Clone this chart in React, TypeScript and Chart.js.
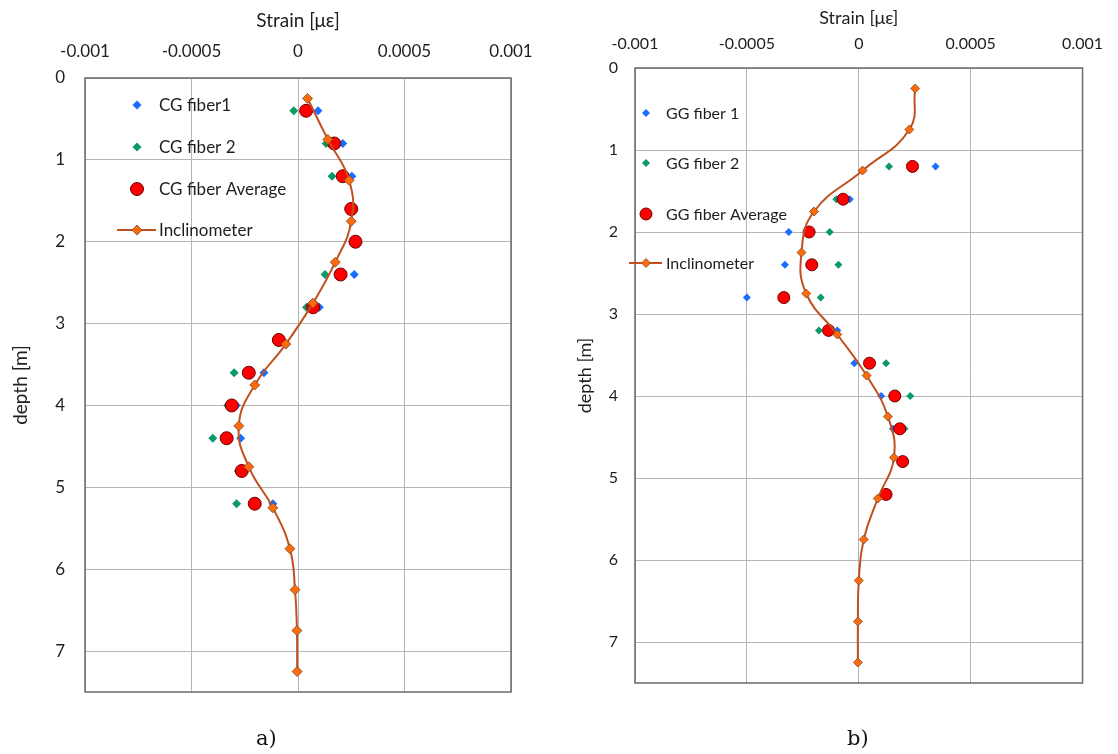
import React, { useEffect, useRef } from 'react';
import { Chart, registerables } from 'chart.js';

Chart.register(...registerables);

// ---------- data ----------
const xTickValues = [-0.001, -0.0005, 0, 0.0005, 0.001];
const xTickLabels = ['-0.001', '-0.0005', '0', '0.0005', '0.001'];
const yTickValues = [0, 1, 2, 3, 4, 5, 6, 7];
const yTickLabels = ['0', '1', '2', '3', '4', '5', '6', '7'];

const inclDepth = [0.25, 0.75, 1.25, 1.75, 2.25, 2.75, 3.25, 3.75, 4.25, 4.75, 5.25, 5.75, 6.25, 6.75, 7.25];

// panel a) CG
const cgFiberDepth = [0.4, 0.8, 1.2, 1.6, 2.0, 2.4, 2.8, 3.2, 3.6, 4.0, 4.4, 4.8, 5.2];
const cgFiber1 = [0.000094, 0.00021, 0.000253, 0.00026, 0.00027, 0.000264, 0.0001, -0.00008, -0.00016, -0.00029, -0.000269, -0.00025, -0.000118];
const cgFiber2 = [-0.00002, 0.000132, 0.00016, 0.00024, 0.00026, 0.000127, 0.00004, -0.0001, -0.0003, -0.00033, -0.0004, -0.00028, -0.000288];
const cgAverage = [0.000038, 0.00017, 0.00021, 0.00025, 0.00027, 0.0002, 0.000071, -0.00009, -0.000231, -0.000311, -0.000335, -0.000264, -0.000203];
const cgIncl = [0.000045, 0.00014, 0.00024, 0.00025, 0.000175, 0.00007, -0.000057, -0.000203, -0.000278, -0.000231, -0.000118, -0.000038, -0.000014, -0.000005, -0.000004];

// panel b) GG
const ggFiberDepth = [1.2, 1.6, 2.0, 2.4, 2.8, 3.2, 3.6, 4.0, 4.4, 4.8, 5.2];
const ggFiber1 = [0.000343, -0.00004, -0.000313, -0.00033, -0.0005, -0.000096, -0.00002, 0.0001, 0.000152, 0.00019, 0.00012];
const ggFiber2 = [0.000135, -0.0001, -0.00013, -0.000091, -0.00017, -0.000178, 0.000122, 0.00023, 0.000204, 0.0002, 0.000125];
const ggAverage = [0.00024, -0.00007, -0.000222, -0.00021, -0.000335, -0.000135, 0.000048, 0.000161, 0.000183, 0.000196, 0.000122];
const ggIncl = [0.000252, 0.000226, 0.000017, -0.0002, -0.000256, -0.000235, -0.000096, 0.000035, 0.00013, 0.000157, 0.000085, 0.000022, 0, -0.000004, -0.000004];

// ---------- styles ----------
const BLUE = '#1a6dff';
const GREEN = '#0a9a68';
const RED = '#ff0000';
const RED_BORDER = '#6b0000';
const INCL_LINE = '#c0501e';
const INCL_FILL = '#ff6a0a';
const INCL_BORDER = '#7a4a2a';
const GRID = '#b5b5b5';
const FRAME = '#6a6a6a';
const TEXT = '#1e1e1e';
const FONT = 'Lato, "Open Sans", sans-serif';

const toPts = (xs: number[], ys: number[]) => xs.map((x, i) => ({ x, y: ys[i] }));

const labelFor = (values: number[], labels: string[], v: number) => {
  let best = 0;
  values.forEach((t, i) => {
    if (Math.abs(t - v) < Math.abs(values[best] - v)) best = i;
  });
  return labels[best];
};

type PanelCfg = {
  labels: [string, string, string, string];
  depth: number[];
  f1: number[];
  f2: number[];
  avg: number[];
  incl: number[];
  yAxisWidth: number;
  xAxisHeight: number;
  padRight: number;
  padBottom: number;
  yTickPad: number;
  xTickPad: number;
  titlePadX: number;
  titlePadY: number;
  fontSize: number;
  titleSize: number;
  legendFont: number;
  fiberR: number;
  avgR: number;
  inclR: number;
  legend: { markerX: number; textX: number; lineX1: number; lineX2: number; ys: number[] };
};

function drawDiamond(ctx: CanvasRenderingContext2D, x: number, y: number, r: number, fill: string, stroke?: string) {
  ctx.beginPath();
  ctx.moveTo(x, y - r);
  ctx.lineTo(x + r, y);
  ctx.lineTo(x, y + r);
  ctx.lineTo(x - r, y);
  ctx.closePath();
  ctx.fillStyle = fill;
  ctx.fill();
  if (stroke) {
    ctx.strokeStyle = stroke;
    ctx.lineWidth = 0.8;
    ctx.stroke();
  }
}

function makePlugins(cfg: PanelCfg) {
  const frame = {
    id: 'frame',
    afterDraw(chart: any) {
      const { ctx, chartArea: a } = chart;
      ctx.save();
      ctx.strokeStyle = FRAME;
      ctx.lineWidth = 1.5;
      ctx.strokeRect(a.left, a.top, a.right - a.left, a.bottom - a.top);
      ctx.restore();
    },
  };
  const legend = {
    id: 'customLegend',
    afterDraw(chart: any) {
      const ctx: CanvasRenderingContext2D = chart.ctx;
      const L = cfg.legend;
      ctx.save();
      ctx.font = `${cfg.legendFont}px ${FONT}`;
      ctx.textBaseline = 'middle';
      ctx.textAlign = 'left';
      cfg.labels.forEach((label, i) => {
        const y = L.ys[i];
        if (i === 0) drawDiamond(ctx, L.markerX, y, cfg.fiberR, BLUE);
        if (i === 1) drawDiamond(ctx, L.markerX, y, cfg.fiberR, GREEN);
        if (i === 2) {
          ctx.beginPath();
          ctx.arc(L.markerX, y, cfg.avgR, 0, Math.PI * 2);
          ctx.fillStyle = RED;
          ctx.fill();
          ctx.strokeStyle = RED_BORDER;
          ctx.lineWidth = 1;
          ctx.stroke();
        }
        if (i === 3) {
          ctx.beginPath();
          ctx.moveTo(L.lineX1, y);
          ctx.lineTo(L.lineX2, y);
          ctx.strokeStyle = INCL_LINE;
          ctx.lineWidth = 2;
          ctx.stroke();
          drawDiamond(ctx, L.markerX, y, cfg.inclR, INCL_FILL, INCL_BORDER);
        }
        ctx.fillStyle = TEXT;
        ctx.fillText(label, L.textX, y + 1);
      });
      ctx.restore();
    },
  };
  return [frame, legend];
}

function buildConfig(cfg: PanelCfg): any {
  const font = { family: FONT, size: cfg.fontSize };
  const tfont = { family: FONT, size: cfg.titleSize };
  return {
    type: 'scatter',
    data: {
      datasets: [
        {
          label: cfg.labels[3],
          type: 'line',
          data: toPts(cfg.incl, inclDepth),
          borderColor: INCL_LINE,
          borderWidth: 2,
          tension: 0.45,
          fill: false,
          pointStyle: 'rectRot',
          pointRadius: cfg.inclR,
          pointBackgroundColor: INCL_FILL,
          pointBorderColor: INCL_BORDER,
          pointBorderWidth: 0.8,
          order: 0,
        },
        {
          label: cfg.labels[2],
          data: toPts(cfg.avg, cfg.depth),
          pointStyle: 'circle',
          pointRadius: cfg.avgR,
          backgroundColor: RED,
          borderColor: RED_BORDER,
          borderWidth: 1,
          showLine: false,
          order: 1,
        },
        {
          label: cfg.labels[1],
          data: toPts(cfg.f2, cfg.depth),
          pointStyle: 'rectRot',
          pointRadius: cfg.fiberR,
          backgroundColor: GREEN,
          borderColor: GREEN,
          borderWidth: 0,
          showLine: false,
          order: 2,
        },
        {
          label: cfg.labels[0],
          data: toPts(cfg.f1, cfg.depth),
          pointStyle: 'rectRot',
          pointRadius: cfg.fiberR,
          backgroundColor: BLUE,
          borderColor: BLUE,
          borderWidth: 0,
          showLine: false,
          order: 3,
        },
      ],
    },
    options: {
      responsive: false,
      animation: false,
      events: [],
      layout: { padding: { left: 0, top: 0, right: cfg.padRight, bottom: cfg.padBottom } },
      plugins: {
        legend: { display: false },
        tooltip: { enabled: false },
      },
      scales: {
        x: {
          type: 'linear',
          position: 'top',
          min: -0.001,
          max: 0.001,
          ticks: {
            stepSize: 0.0005,
            autoSkip: false,
            maxRotation: 0,
            padding: cfg.xTickPad,
            color: TEXT,
            font,
            callback: (v: number) => labelFor(xTickValues, xTickLabels, v),
          },
          grid: { color: GRID, lineWidth: 1, drawTicks: false },
          border: { display: false },
          title: {
            display: true,
            text: 'Strain [με]',
            color: TEXT,
            font: tfont,
            padding: { top: cfg.titlePadY, bottom: 0 },
          },
          afterFit: (s: any) => {
            s.height = cfg.xAxisHeight;
          },
        },
        y: {
          type: 'linear',
          reverse: true,
          min: 0,
          max: 7.5,
          ticks: {
            stepSize: 1,
            includeBounds: false,
            padding: cfg.yTickPad,
            color: TEXT,
            font,
            callback: (v: number) => labelFor(yTickValues, yTickLabels, v),
          },
          grid: { color: GRID, lineWidth: 1, drawTicks: false },
          border: { display: false },
          title: {
            display: true,
            text: 'depth [m]',
            color: TEXT,
            font: tfont,
            padding: { top: cfg.titlePadX, bottom: 0 },
          },
          afterFit: (s: any) => {
            s.width = cfg.yAxisWidth;
          },
        },
      },
    },
    plugins: makePlugins(cfg),
  };
}

const panelA: PanelCfg = {
  labels: ['CG fiber1', 'CG fiber 2', 'CG fiber Average', 'Inclinometer'],
  depth: cgFiberDepth,
  f1: cgFiber1,
  f2: cgFiber2,
  avg: cgAverage,
  incl: cgIncl,
  yAxisWidth: 85,
  xAxisHeight: 78,
  padRight: 559 - 511,
  padBottom: 754 - 692,
  yTickPad: 20,
  xTickPad: 16,
  titlePadX: 9,
  titlePadY: 9,
  fontSize: 17,
  titleSize: 19,
  legendFont: 17,
  fiberR: 4.5,
  avgR: 6.5,
  inclR: 5,
  legend: { markerX: 137, textX: 159, lineX1: 117, lineX2: 156, ys: [105, 147, 189, 230] },
};

const panelB: PanelCfg = {
  labels: ['GG fiber 1', 'GG fiber 2', 'GG fiber Average', 'Inclinometer'],
  depth: ggFiberDepth,
  f1: ggFiber1,
  f2: ggFiber2,
  avg: ggAverage,
  incl: ggIncl,
  yAxisWidth: 635 - 559,
  xAxisHeight: 68,
  padRight: 1118 - 1094,
  padBottom: 754 - 683,
  yTickPad: 17,
  xTickPad: 15,
  titlePadX: 15,
  titlePadY: 7,
  fontSize: 16,
  titleSize: 18,
  legendFont: 16,
  fiberR: 4,
  avgR: 6,
  inclR: 4.5,
  legend: { markerX: 646 - 559, textX: 666 - 559, lineX1: 629 - 559, lineX2: 662 - 559, ys: [113, 163, 214, 263] },
};

function Panel({ cfg, left }: { cfg: PanelCfg; left: number }) {
  const ref = useRef<HTMLCanvasElement | null>(null);
  useEffect(() => {
    if (!ref.current) return;
    const chart = new Chart(ref.current, buildConfig(cfg));
    return () => chart.destroy();
  }, [cfg]);
  return (
    <canvas
      ref={ref}
      width={559}
      height={754}
      style={{ position: 'absolute', left, top: 0, width: 559, height: 754 }}
    />
  );
}

export default function App() {
  const caption: React.CSSProperties = {
    position: 'absolute',
    top: 724,
    fontFamily: '"DejaVu Serif", "Liberation Serif", serif',
    fontSize: 21,
    color: '#111',
    lineHeight: '28px',
  };
  return (
    <div style={{ position: 'absolute', left: 0, top: 0, width: 1118, height: 754, background: '#fff', overflow: 'hidden' }}>
      <Panel cfg={panelA} left={0} />
      <Panel cfg={panelB} left={559} />
      <div style={{ ...caption, left: 256 }}>a)</div>
      <div style={{ ...caption, left: 847 }}>b)</div>
    </div>
  );
}
